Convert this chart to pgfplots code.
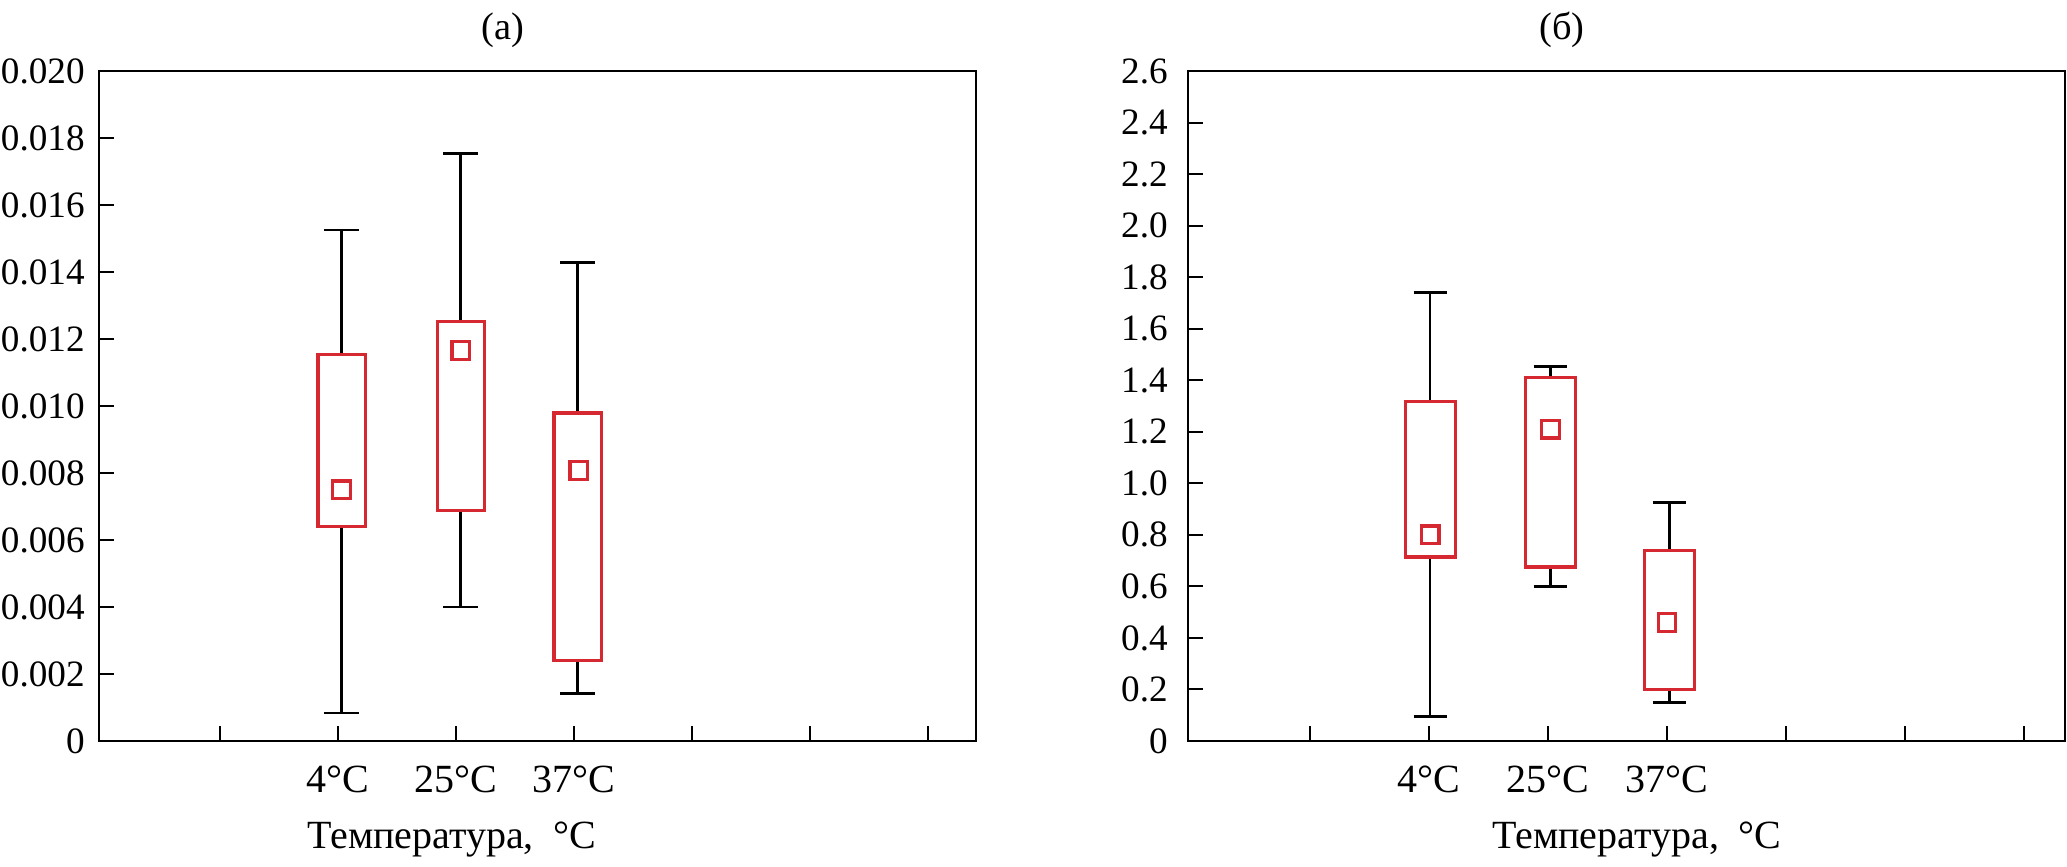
\documentclass[border=0pt]{standalone}
\usepackage{fontspec}
\setmainfont{Liberation Serif}
\usepackage{pgfplots}
\pgfplotsset{compat=1.18}
\usepgfplotslibrary{statistics}
\definecolor{boxred}{RGB}{214,40,48}

\pgfplotsset{
  panel/.style={
    scale only axis, width=219.25pt, height=167.5pt,
    anchor=south west,
    xmin=-0.025, ymin=0,
    xtick={1,2,3,4,5,6,7},
    xticklabels={,4°C,25°C,37°C,,,},
    scaled y ticks=false,
    /pgf/number format/assume math mode=true,
    tick align=inside, xtick pos=bottom, ytick pos=left,
    major tick length=3.75pt,
    line width=0.5pt,
    tick style={black, line width=0.5pt},
    xticklabel style={font=\fontsize{10}{12}\selectfont, yshift=-2.7pt},
    yticklabel style={font=\fontsize{9.3}{11}\selectfont},
    clip=false,
    boxplot/draw direction=y,
    boxplot/every box/.style={draw=boxred, line width=0.8pt},
    boxplot/every whisker/.style={black, line width=0.65pt},
    boxplot/every median/.style={draw=none},
  },
  meanmark/.style={only marks, mark=square, mark size=2.2pt,
    mark options={draw=boxred, line width=0.8pt, fill=none}},
}

\begin{document}
\begin{tikzpicture}
\path[use as bounding box] (0,0) rectangle (516.75pt,216.75pt);

% ---------- (a) ----------
\begin{axis}[panel, at={(24.75pt,31.5pt)},
  xmax=7.405, ymax=0.020,
  ytick={0,0.002,0.004,0.006,0.008,0.010,0.012,0.014,0.016,0.018,0.020},
  yticklabels={0,0.002,0.004,0.006,0.008,0.010,0.012,0.014,0.016,0.018,0.020},
  boxplot/box extend=0.4, boxplot/whisker extend=0.3]
\addplot[black, boxplot prepared={draw position=2.03,
  lower whisker=0.00084, lower quartile=0.0064, median=0.0064,
  upper quartile=0.01153, upper whisker=0.01525}] coordinates {};
\addplot[black, boxplot prepared={draw position=3.04,
  lower whisker=0.0040, lower quartile=0.00689, median=0.00689,
  upper quartile=0.01252, upper whisker=0.01754}] coordinates {};
\addplot[black, boxplot prepared={draw position=4.03,
  lower whisker=0.00142, lower quartile=0.00241, median=0.00241,
  upper quartile=0.00979, upper whisker=0.01429}] coordinates {};
\addplot[meanmark] coordinates {(2.03,0.0075) (3.04,0.01166) (4.04,0.00808)};
\node[font=\fontsize{9.6}{11}\selectfont] at (rel axis cs:0.461,1) [yshift=10.25pt] {(a)};
\node[font=\fontsize{10}{12}\selectfont] at (rel axis cs:0.4025,0) [yshift=-24.75pt] {Температура,~~°C};
\end{axis}

% ---------- (б) ----------
\begin{axis}[panel, at={(297pt,31.5pt)},
  xmax=7.345, ymax=2.6,
  ytick={0,0.2,0.4,0.6,0.8,1.0,1.2,1.4,1.6,1.8,2.0,2.2,2.4,2.6},
  yticklabels={0,0.2,0.4,0.6,0.8,1.0,1.2,1.4,1.6,1.8,2.0,2.2,2.4,2.6},
  yticklabel style={xshift=-1.5pt},
  boxplot/box extend=0.42, boxplot/whisker extend=0.28]
\addplot[black, boxplot prepared={draw position=2.01,
  lower whisker=0.094, lower quartile=0.714, median=0.714,
  upper quartile=1.316, upper whisker=1.74}] coordinates {};
\addplot[black, boxplot prepared={draw position=3.02,
  lower whisker=0.60, lower quartile=0.675, median=0.675,
  upper quartile=1.41, upper whisker=1.453}] coordinates {};
\addplot[black, boxplot prepared={draw position=4.02,
  lower whisker=0.15, lower quartile=0.20, median=0.20,
  upper quartile=0.74, upper whisker=0.925}] coordinates {};
\addplot[meanmark] coordinates {(2.01,0.80) (3.02,1.21) (4.0,0.46)};
\node[font=\fontsize{9.6}{11}\selectfont] at (rel axis cs:0.4265,1) [yshift=10.25pt] {(б)};
\node[font=\fontsize{10}{12}\selectfont] at (rel axis cs:0.512,0) [yshift=-24.75pt] {Температура,~~°C};
\end{axis}
\end{tikzpicture}
\end{document}
